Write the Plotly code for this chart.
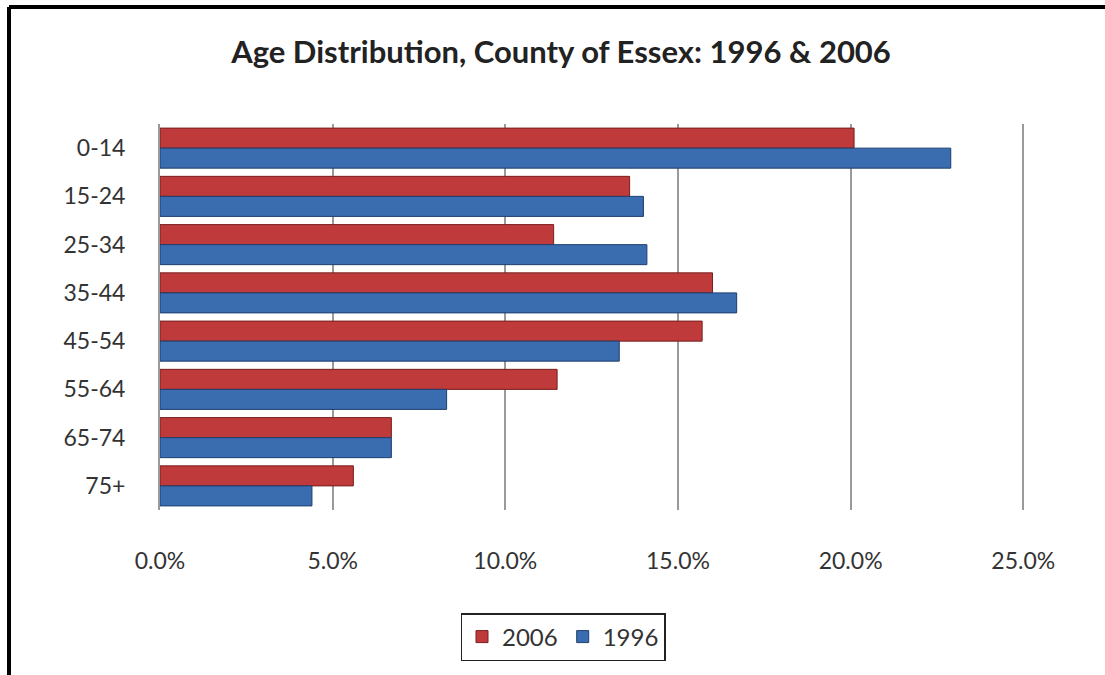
import plotly.graph_objects as go

age_groups = ["0-14", "15-24", "25-34", "35-44", "45-54", "55-64", "65-74", "75+"]
share_2006 = [20.1, 13.6, 11.4, 16.0, 15.7, 11.5, 6.7, 5.6]
share_1996 = [22.9, 14.0, 14.1, 16.7, 13.3, 8.3, 6.7, 4.4]
x_ticks = [0, 5, 10, 15, 20, 25]
x_tick_labels = ["0.0%", "5.0%", "10.0%", "15.0%", "20.0%", "25.0%"]

RED = "#BF3B3B"
BLUE = "#3A6CB0"
FONT = "Lato, 'Open Sans', sans-serif"

fig = go.Figure()
fig.add_trace(go.Bar(y=age_groups, x=share_2006, orientation="h", name="2006",
                     marker=dict(color=RED, line=dict(color="#7A1E1E", width=1))))
fig.add_trace(go.Bar(y=age_groups, x=share_1996, orientation="h", name="1996",
                     marker=dict(color=BLUE, line=dict(color="#1F3F6E", width=1))))

W, H = 1105, 675
L, R, T, B = 160, 80, 124, 165
pw = W - L - R
ph = H - T - B

def px_x(p):
    return (p - L) / pw

def px_y(p):
    return (H - B - p) / ph

fig.update_layout(
    width=W, height=H,
    margin=dict(l=L, r=R, t=T, b=B),
    paper_bgcolor="white", plot_bgcolor="white",
    barmode="group", bargap=0.17, bargroupgap=0.0,
    font=dict(family=FONT, size=23, color="#333333"),
    title=dict(text="<b>Age Distribution, County of Essex: 1996 &amp; 2006</b>",
               x=561 / W, xref="container", xanchor="center",
               y=1 - 52 / H, yref="container", yanchor="middle",
               font=dict(family=FONT, size=31, color="#222222")),
    xaxis=dict(range=[0, 25.05], tickvals=x_ticks, ticktext=x_tick_labels,
               showgrid=True, gridcolor="#9A9A9A", gridwidth=2,
               zeroline=False, showline=False, ticks="",
               ticklabelstandoff=35, tickfont=dict(size=23, color="#333333")),
    yaxis=dict(autorange="reversed", showgrid=False, zeroline=False,
               showline=True, linecolor="#9A9A9A", linewidth=2,
               ticks="", ticklabelstandoff=28,
               tickfont=dict(size=23, color="#333333")),
    legend=dict(orientation="h", x=px_x(563), xanchor="center",
                y=px_y(637), yanchor="middle",
                bordercolor="#222222", borderwidth=1.5,
                font=dict(size=24, color="#333333"), itemwidth=30),
    shapes=[
        dict(type="line", xref="paper", yref="paper",
             x0=px_x(9), x1=px_x(9), y0=px_y(H), y1=px_y(7),
             line=dict(color="black", width=4)),
        dict(type="line", xref="paper", yref="paper",
             x0=px_x(9), x1=px_x(W), y0=px_y(7), y1=px_y(7),
             line=dict(color="black", width=4)),
    ],
)

fig.write_html("out.html")
